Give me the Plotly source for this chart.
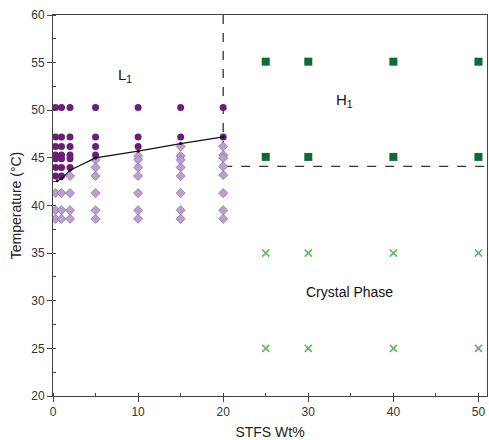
import plotly.graph_objects as go

# L1 (dark purple circles)
l1_x = [0.3]*7 + [1]*7 + [2]*6 + [5]*4 + [10]*3 + [15]*2 + [20]*2
l1_t = ([50.3, 47.2, 46.2, 45.3, 44.9, 44.0, 43.1] * 2
        + [50.3, 47.2, 46.2, 45.3, 44.9, 44.0]
        + [50.3, 47.2, 46.2, 45.3]
        + [50.3, 47.2, 46.2]
        + [50.3, 47.2]
        + [50.3, 47.2])

# light purple diamonds
d_x = [0.3]*3 + [1]*3 + [2]*4 + [5]*6 + [10]*7 + [15]*8 + [20]*8
d_t = ([41.3, 39.5, 38.6] * 2
       + [43.1, 41.3, 39.5, 38.6]
       + [44.8, 44.0, 43.1, 41.3, 39.5, 38.6]
       + [45.2, 44.8, 44.0, 43.1, 41.3, 39.5, 38.6]
       + [46.2, 45.2, 44.8, 44.0, 43.1, 41.3, 39.5, 38.6]
       + [46.2, 45.3, 45.0, 44.1, 43.2, 41.3, 39.5, 38.6])

# H1 (dark green squares)
h1_x = [25, 30, 40, 50, 25, 30, 40, 50]
h1_t = [55.1, 55.1, 55.1, 55.1, 45.1, 45.1, 45.1, 45.1]

# crystal phase (green crosses)
cr_x = [25, 30, 40, 50, 25, 30, 40, 50]
cr_t = [35, 35, 35, 35, 25, 25, 25, 25]

# boundary line
b_x = [0.5, 1, 2, 5, 10, 15, 20]
b_t = [42.6, 42.8, 43.7, 45.0, 45.7, 46.5, 47.2]

# dashed phase boundaries
v_x = [20, 20]
v_t = [60, 44.1]
h_x = [20, 51]
h_t = [44.1, 44.1]

fig = go.Figure()
fig.add_trace(go.Scatter(x=v_x, y=v_t, mode="lines",
                         line=dict(color="#333333", width=1.3, dash="dash")))
fig.add_trace(go.Scatter(x=h_x, y=h_t, mode="lines",
                         line=dict(color="#333333", width=1.3, dash="dash")))
fig.add_trace(go.Scatter(x=d_x, y=d_t, mode="markers",
                         marker=dict(symbol="diamond", size=7, color="#b9a0cf",
                                     line=dict(color="#8a6aa5", width=0.7))))
fig.add_trace(go.Scatter(x=l1_x, y=l1_t, mode="markers",
                         marker=dict(symbol="circle", size=7, color="#6a1e78",
                                     line=dict(width=0))))
fig.add_trace(go.Scatter(x=b_x, y=b_t, mode="lines+markers",
                         line=dict(color="#111111", width=1.2),
                         marker=dict(symbol="circle", size=3, color="#111111")))
fig.add_trace(go.Scatter(x=h1_x, y=h1_t, mode="markers",
                         marker=dict(symbol="square", size=8, color="#0e6b34",
                                     line=dict(width=0))))
fig.add_trace(go.Scatter(x=cr_x, y=cr_t, mode="markers",
                         marker=dict(symbol="x-thin", size=7, color="#5cb85f",
                                     line=dict(color="#5cb85f", width=1.5))))

fig.add_annotation(x=8.5, y=53.6, text="L<sub>1</sub>", showarrow=False,
                   font=dict(size=15, color="#111111"))
fig.add_annotation(x=34.2, y=51.0, text="H<sub>1</sub>", showarrow=False,
                   font=dict(size=15, color="#111111"))
fig.add_annotation(x=34.8, y=30.9, text="Crystal Phase", showarrow=False,
                   font=dict(size=14, color="#111111"))

axis_common = dict(showgrid=False, zeroline=False, showline=True, mirror=True,
                   linecolor="#444444", linewidth=1, ticks="outside",
                   ticklen=5, tickcolor="#444444",
                   tickfont=dict(size=12, color="#333333"))

fig.update_xaxes(range=[0, 51], tick0=0, dtick=10,
                 minor=dict(ticks="inside", ticklen=3, dtick=5, tickcolor="#444444"),
                 title=dict(text="STFS Wt%", font=dict(size=14, color="#222222"), standoff=8),
                 **axis_common)
fig.update_yaxes(range=[20, 60], tick0=20, dtick=5,
                 minor=dict(ticks="inside", ticklen=3, dtick=2.5, tickcolor="#444444"),
                 title=dict(text="Temperature (°C)", font=dict(size=14, color="#222222"), standoff=6),
                 **axis_common)

fig.update_layout(width=489, height=440, showlegend=False,
                  plot_bgcolor="white", paper_bgcolor="white",
                  font=dict(family="Liberation Sans, Arial, sans-serif"),
                  margin=dict(l=53, r=2, t=15, b=44))

fig.write_html("out.html")
